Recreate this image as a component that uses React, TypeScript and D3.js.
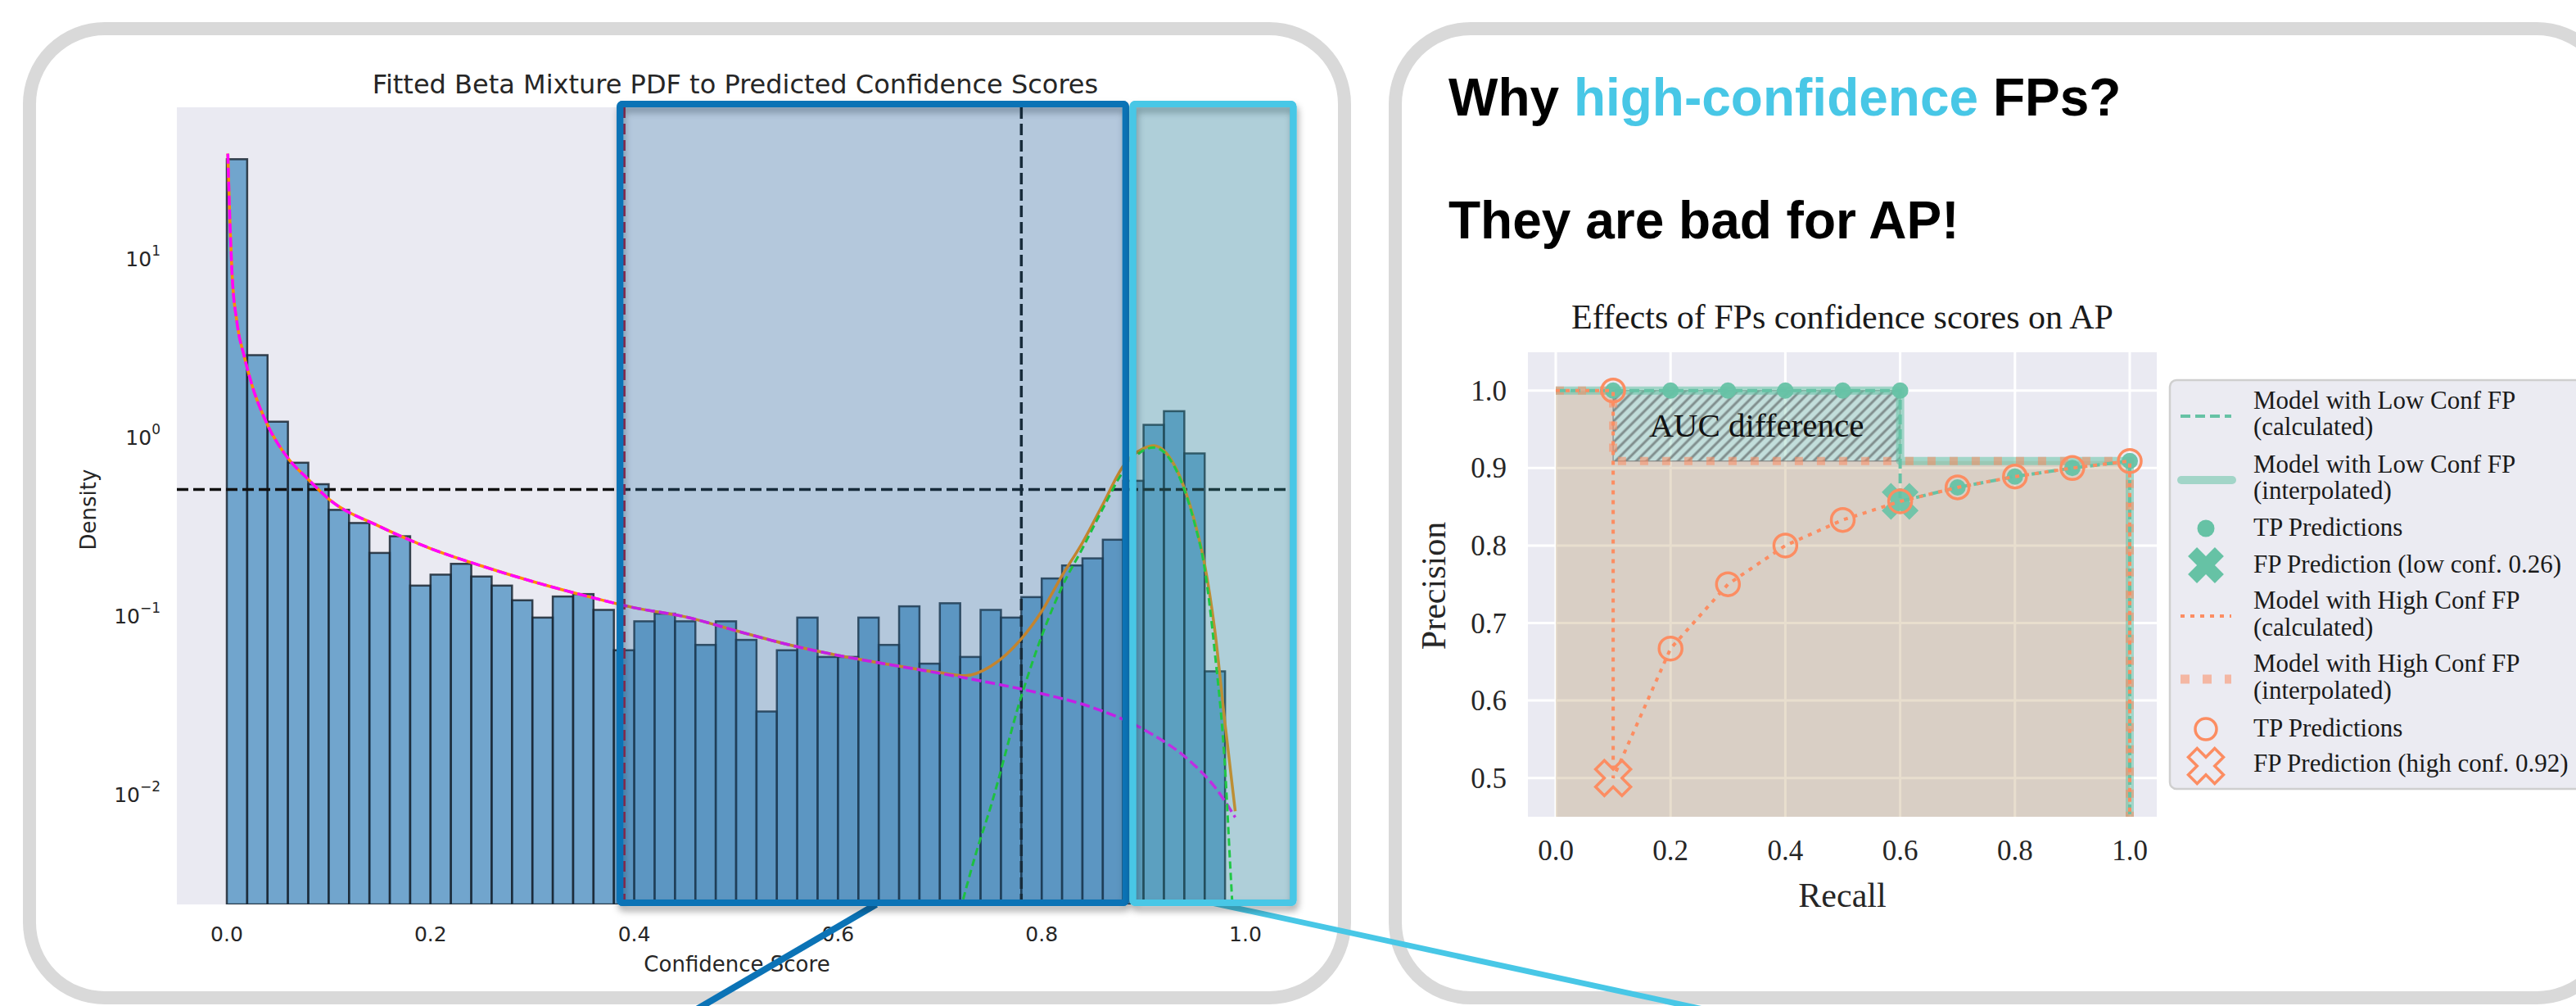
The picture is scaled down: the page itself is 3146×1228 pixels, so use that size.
import React from 'react'
import * as d3 from 'd3'

const W = 3146
const H = 1228

// ---------- left chart: histogram of confidence scores ----------
const binStarts = [0, 0.02, 0.04, 0.06, 0.08, 0.1, 0.12, 0.14, 0.16, 0.18, 0.2, 0.22, 0.24, 0.26, 0.28, 0.3, 0.32, 0.34, 0.36, 0.38,
  0.4, 0.42, 0.44, 0.46, 0.48, 0.5, 0.52, 0.54, 0.56, 0.58, 0.6, 0.62, 0.64, 0.66, 0.68, 0.7, 0.72, 0.74, 0.76, 0.78,
  0.8, 0.82, 0.84, 0.86, 0.88, 0.9, 0.92, 0.94, 0.96]
const binWidth = 0.02
const binDensity = [35.4, 2.83, 1.2, 0.707, 0.536, 0.385, 0.325, 0.221, 0.274, 0.145, 0.167, 0.192, 0.163, 0.145, 0.12, 0.096, 0.126, 0.13, 0.106, 0.063,
  0.0915, 0.101, 0.0915, 0.0675, 0.0915, 0.072, 0.0286, 0.063, 0.096, 0.0578, 0.0578, 0.096, 0.0675, 0.111, 0.053, 0.1155, 0.0578, 0.106, 0.096, 0.125,
  0.159, 0.188, 0.206, 0.262, 0.56, 1.152, 1.374, 0.797, 0.048]

// fitted components
const lowCompX = [0.001, 0.003, 0.005, 0.01, 0.017, 0.025, 0.04, 0.06, 0.08, 0.1, 0.15, 0.2, 0.25, 0.3, 0.35, 0.4, 0.45, 0.5, 0.55, 0.6, 0.65, 0.7, 0.75, 0.8, 0.85, 0.9, 0.95, 0.97, 0.99]
const lowCompY = [38, 16, 8.4, 4.3, 2.8, 1.9, 1.15, 0.75, 0.57, 0.443, 0.311, 0.234, 0.187, 0.153, 0.128, 0.109, 0.097, 0.081, 0.068, 0.059, 0.0524, 0.0468, 0.0414, 0.036, 0.0301, 0.0227, 0.0143, 0.0108, 0.0073]
const highCompX = [0.72, 0.735, 0.75, 0.78, 0.8, 0.82, 0.84, 0.86, 0.88, 0.9, 0.91, 0.92, 0.94, 0.95, 0.96, 0.97, 0.98, 0.985, 0.99]
const highCompY = [0.0022, 0.0045, 0.0084, 0.0348, 0.0756, 0.143, 0.234, 0.391, 0.631, 0.83, 0.86, 0.81, 0.5, 0.325, 0.18, 0.061, 0.0138, 0.004, 0.0012]
const mixX = [0.001, 0.003, 0.005, 0.01, 0.017, 0.025, 0.04, 0.06, 0.08, 0.1, 0.15, 0.2, 0.25, 0.3, 0.35, 0.4, 0.45, 0.5, 0.55, 0.6, 0.65, 0.7, 0.725, 0.75, 0.78, 0.8, 0.82, 0.84, 0.86, 0.88, 0.9, 0.91, 0.92, 0.94, 0.95, 0.96, 0.97, 0.98, 0.99]
const mixY = [38, 16, 8.4, 4.3, 2.8, 1.9, 1.15, 0.75, 0.57, 0.443, 0.311, 0.234, 0.187, 0.153, 0.128, 0.109, 0.097, 0.081, 0.068, 0.059, 0.0525, 0.0472, 0.0454, 0.0513, 0.073, 0.104, 0.165, 0.252, 0.413, 0.677, 0.85, 0.881, 0.826, 0.511, 0.334, 0.19, 0.081, 0.0244, 0.0079]

const densityThreshold = 0.5
const lowerCut = 0.39
const upperCut = 0.78
const histXTicks = [0, 0.2, 0.4, 0.6, 0.8, 1.0]
const histYExps = [-2, -1, 0, 1]
// highlighted score ranges
const midRange = [0.386, 0.8825]
const highRange = [0.8895, 1.047]

// ---------- right chart: precision / recall ----------
const lowCalcRecall = [0, 0.1, 0.2, 0.3, 0.4, 0.5, 0.6, 0.6, 0.7, 0.8, 0.9, 1.0, 1.0]
const lowCalcPrec = [1, 1, 1, 1, 1, 1, 1, 0.857, 0.875, 0.889, 0.9, 0.909, 0]
const lowInterpRecall = [0, 0.6, 0.6, 1.0, 1.0]
const lowInterpPrec = [1, 1, 0.909, 0.909, 0]
const highCalcRecall = [0, 0.1, 0.1, 0.2, 0.3, 0.4, 0.5, 0.6, 0.7, 0.8, 0.9, 1.0, 1.0]
const highCalcPrec = [1, 1, 0.5, 0.667, 0.75, 0.8, 0.833, 0.857, 0.875, 0.889, 0.9, 0.909, 0]
const highInterpRecall = [0, 0.1, 0.1, 1.0, 1.0]
const highInterpPrec = [1, 1, 0.909, 0.909, 0]
const tpLowRecall = [0.1, 0.2, 0.3, 0.4, 0.5, 0.6, 0.7, 0.8, 0.9, 1.0]
const tpLowPrec = [1, 1, 1, 1, 1, 1, 0.875, 0.889, 0.9, 0.909]
const fpLow = [0.6, 0.857]
const tpHighRecall = [0.1, 0.2, 0.3, 0.4, 0.5, 0.6, 0.7, 0.8, 0.9, 1.0]
const tpHighPrec = [1, 0.667, 0.75, 0.8, 0.833, 0.857, 0.875, 0.889, 0.9, 0.909]
const fpHigh = [0.1, 0.5]
const aucRecall = [0.1, 0.6]
const apXTicks = [0, 0.2, 0.4, 0.6, 0.8, 1.0]
const apYTicks = [0.5, 0.6, 0.7, 0.8, 0.9, 1.0]
const legendLabels = [
  ['Model with Low Conf FP', '(calculated)'],
  ['Model with Low Conf FP', '(interpolated)'],
  ['TP Predictions'],
  ['FP Prediction (low conf. 0.26)'],
  ['Model with High Conf FP', '(calculated)'],
  ['Model with High Conf FP', '(interpolated)'],
  ['TP Predictions'],
  ['FP Prediction (high conf. 0.92)'],
]

const GREEN = '#66c2a5'
const ORANGE = '#fc8d62'
const DARKBLUE = '#0b73b6'
const CYAN = '#48c7e6'
const sans = "'DejaVu Sans', sans-serif"
const serif = "'Liberation Serif', 'Times New Roman', serif"
const head = "'Liberation Sans', Arial, sans-serif"

const zip = (a: number[], b: number[]) => a.map((v, i) => [v, b[i]] as [number, number])

function Panels() {
  return (
    <g fill="#fff" stroke="#d9d9d9" strokeWidth={16}>
      <rect x={36} y={35} width={1606} height={1183} rx={92} />
      <rect x={1704} y={35} width={1486} height={1183} rx={92} />
    </g>
  )
}

function HistChart() {
  const x = d3.scaleLinear().domain([0, 1]).range([277, 1521])
  const y = d3.scaleLog().domain([1, 10]).range([532, 314])
  const L = 216, R = 1580, T = 131, B = 1104
  const line = d3.line<[number, number]>().x(d => x(d[0])).y(d => y(d[1])).curve(d3.curveMonotoneX)

  return (
    <g fontFamily={sans}>
      <defs>
        <clipPath id="histClip"><rect x={L} y={T} width={R - L} height={B - T} /></clipPath>
      </defs>
      <rect x={L} y={T} width={R - L} height={B - T} fill="#eaeaf2" />
      <g clipPath="url(#histClip)">
        {binStarts.map((s, i) => (
          <rect key={i} x={x(s)} y={y(binDensity[i])} width={x(s + binWidth) - x(s)} height={B - y(binDensity[i])}
            fill="rgba(31,119,180,0.6)" stroke="#1b2733" strokeOpacity={0.85} strokeWidth={2.5} />
        ))}
        <line x1={L} x2={R} y1={y(densityThreshold)} y2={y(densityThreshold)} stroke="#111" strokeWidth={3.5} strokeDasharray="14 6" />
        <line x1={x(upperCut)} x2={x(upperCut)} y1={T} y2={B} stroke="#111" strokeWidth={3.5} strokeDasharray="14 6" />
        <line x1={x(lowerCut)} x2={x(lowerCut)} y1={T} y2={B} stroke="#c8102e" strokeWidth={3.5} strokeDasharray="13 7" />
        <path d={line(zip(mixX, mixY)) || ''} fill="none" stroke="#ff8c00" strokeWidth={3.5} />
        <path d={line(zip(lowCompX, lowCompY)) || ''} fill="none" stroke="#ff00ff" strokeWidth={3.5} strokeDasharray="12 5" />
        <path d={line(zip(highCompX, highCompY)) || ''} fill="none" stroke="#19e019" strokeWidth={3} strokeDasharray="9 5" />
      </g>
      <text x={(L + R) / 2} y={114} textAnchor="middle" fontSize={32} fill="#262626">Fitted Beta Mixture PDF to Predicted Confidence Scores</text>
      {histXTicks.map(t => (
        <text key={t} x={x(t)} y={1149} textAnchor="middle" fontSize={25} fill="#262626">{t.toFixed(1)}</text>
      ))}
      {histYExps.map(e => (
        <text key={e} x={196} y={y(Math.pow(10, e)) + 11} textAnchor="end" fontSize={25} fill="#262626">
          10<tspan dy={-13} fontSize={17}>{e < 0 ? '\u2212' + (-e) : String(e)}</tspan>
        </text>
      ))}
      <text x={900} y={1186} textAnchor="middle" fontSize={26} fill="#262626">Confidence Score</text>
      <text transform="translate(117,622) rotate(-90)" textAnchor="middle" fontSize={26} fill="#262626">Density</text>
    </g>
  )
}

function RangeBoxes() {
  const x = d3.scaleLinear().domain([0, 1]).range([277, 1521])
  const T = 127, B = 1102
  const boxes = [
    { r: midRange, stroke: DARKBLUE, fill: 'rgba(40,110,165,0.28)' },
    { r: highRange, stroke: CYAN, fill: 'rgba(50,150,165,0.32)' },
  ]
  return (
    <g>
      <defs>
        <filter id="boxShadow" x="-10%" y="-10%" width="120%" height="120%">
          <feDropShadow dx={2} dy={6} stdDeviation={4} floodColor="#000" floodOpacity={0.35} />
        </filter>
      </defs>
      {boxes.map((b, i) => (
        <g key={i}>
          <rect x={x(b.r[0])} y={T} width={x(b.r[1]) - x(b.r[0])} height={B - T} fill="none" stroke={b.stroke} strokeWidth={8} rx={3} filter="url(#boxShadow)" />
          <rect x={x(b.r[0])} y={T} width={x(b.r[1]) - x(b.r[0])} height={B - T} fill={b.fill} stroke={b.stroke} strokeWidth={8} rx={3} />
        </g>
      ))}
    </g>
  )
}

function Connectors() {
  return (
    <g fill="none" strokeLinecap="butt">
      <line x1={1070} y1={1104} x2={820} y2={1250} stroke={DARKBLUE} strokeWidth={8} />
      <line x1={1480} y1={1102} x2={2200} y2={1258} stroke={CYAN} strokeWidth={7} />
    </g>
  )
}

function xMarker(size: number) {
  return d3.symbol(d3.symbolCross, size)() || ''
}

function ApChart() {
  const x = d3.scaleLinear().domain([0, 1]).range([1900, 2601])
  const y = d3.scaleLinear().domain([0.5, 1]).range([949.7, 476.7])
  const L = 1866, R = 2634, T = 430, B = 997
  const line = d3.line<[number, number]>().x(d => x(d[0])).y(d => y(d[1]))
  const highArea = d3.area<[number, number]>().x(d => x(d[0])).y0(B + 20).y1(d => y(d[1]))
  const aucArea = d3.area<number>().x(d => x(d)).y0(y(0.909)).y1(y(1))
  const lgX = 2694
  const textX = 2752

  return (
    <g fontFamily={serif}>
      <defs>
        <clipPath id="apClip"><rect x={L} y={T} width={R - L} height={B - T} /></clipPath>
        <pattern id="hatch" patternUnits="userSpaceOnUse" width={9} height={9} patternTransform="rotate(45)">
          <line x1={2} y1={0} x2={2} y2={9} stroke="rgba(105,115,115,0.75)" strokeWidth={3} />
        </pattern>
      </defs>
      <text x={64 + 1705} y={141} fontFamily={head} fontWeight={700} fontSize={64} fill="#000">
        Why <tspan fill={CYAN}>high-confidence</tspan> FPs?
      </text>
      <text x={1769} y={291} fontFamily={head} fontWeight={700} fontSize={64} fill="#000">They are bad for AP!</text>

      <text x={(L + R) / 2} y={401} textAnchor="middle" fontSize={42} fill="#1a1a1a">Effects of FPs confidence scores on AP</text>
      <rect x={L} y={T} width={R - L} height={B - T} fill="#eaeaf2" />
      <g stroke="#fff" strokeWidth={3}>
        {apXTicks.map(t => <line key={'gx' + t} x1={x(t)} x2={x(t)} y1={T} y2={B} />)}
        {apYTicks.map(t => <line key={'gy' + t} x1={L} x2={R} y1={y(t)} y2={y(t)} />)}
      </g>
      <g clipPath="url(#apClip)">
        <path d={highArea(zip(highInterpRecall, highInterpPrec).slice(0, 4)) || ''} fill="rgba(175,143,85,0.29)" />
        <path d={aucArea(aucRecall) || ''} fill="rgba(102,194,165,0.3)" />
        <path d={aucArea(aucRecall) || ''} fill="url(#hatch)" stroke="rgba(110,110,110,0.6)" strokeWidth={1.5} />
        <path d={line(zip(lowInterpRecall, lowInterpPrec)) || ''} fill="none" stroke={GREEN} strokeOpacity={0.55} strokeWidth={10} strokeLinejoin="round" />
        <path d={line(zip(highInterpRecall, highInterpPrec)) || ''} fill="none" stroke={ORANGE} strokeOpacity={0.55} strokeWidth={10} strokeDasharray="10 17" />
        <path d={line(zip(lowCalcRecall, lowCalcPrec)) || ''} fill="none" stroke={GREEN} strokeWidth={4} strokeDasharray="12 6" />
        <path d={xMarker(1264)} transform={`translate(${x(fpLow[0])},${y(fpLow[1])}) rotate(45)`} fill={GREEN} fillOpacity={0.9} />
        {tpLowRecall.map((r, i) => <circle key={'tl' + i} cx={x(r)} cy={y(tpLowPrec[i])} r={10} fill={GREEN} fillOpacity={0.95} />)}
        <path d={line(zip(highCalcRecall, highCalcPrec)) || ''} fill="none" stroke={ORANGE} strokeWidth={4} strokeDasharray="5 7" />
        {tpHighRecall.map((r, i) => <circle key={'th' + i} cx={x(r)} cy={y(tpHighPrec[i])} r={14} fill="none" stroke={ORANGE} strokeWidth={3.5} />)}
        <path d={xMarker(1155)} transform={`translate(${x(fpHigh[0])},${y(fpHigh[1])}) rotate(45)`} fill="none" stroke={ORANGE} strokeWidth={3.5} />
      </g>
      <text x={x(0.35)} y={y(0.94)} textAnchor="middle" fontSize={41} fill="#111">AUC difference</text>

      {apXTicks.map(t => <text key={'xt' + t} x={x(t)} y={1050} textAnchor="middle" fontSize={35} fill="#262626">{t.toFixed(1)}</text>)}
      {apYTicks.map(t => <text key={'yt' + t} x={1840} y={y(t) + 12} textAnchor="end" fontSize={35} fill="#262626">{t.toFixed(1)}</text>)}
      <text x={(L + R) / 2} y={1107} textAnchor="middle" fontSize={42} fill="#262626">Recall</text>
      <text transform="translate(1765,715) rotate(-90)" textAnchor="middle" fontSize={42} fill="#262626">Precision</text>

      {/* legend */}
      <rect x={2650} y={464} width={560} height={499} rx={8} fill="#ebebf2" stroke="#cfcfcf" strokeWidth={2.5} />
      <line x1={2663} x2={2725} y1={508} y2={508} stroke={GREEN} strokeWidth={4} strokeDasharray="12 6" />
      <line x1={2664} x2={2726} y1={586} y2={586} stroke={GREEN} strokeOpacity={0.55} strokeWidth={10} strokeLinecap="round" />
      <circle cx={lgX} cy={645} r={10.5} fill={GREEN} />
      <path d={xMarker(1200)} transform={`translate(${lgX},690) rotate(45)`} fill={GREEN} />
      <line x1={2663} x2={2725} y1={752} y2={752} stroke={ORANGE} strokeWidth={4} strokeDasharray="5 7" />
      <line x1={2663} x2={2725} y1={829} y2={829} stroke={ORANGE} strokeOpacity={0.55} strokeWidth={11} strokeDasharray="11 16" />
      <circle cx={lgX} cy={890} r={13} fill="none" stroke={ORANGE} strokeWidth={3.5} />
      <path d={xMarker(1155)} transform={`translate(${lgX},935) rotate(45)`} fill="none" stroke={ORANGE} strokeWidth={3.5} />
      {[[499, 531], [577, 609], [654], [699], [743, 776], [820, 853], [899], [942]].map((ys, i) =>
        ys.map((yy, j) => (
          <text key={i + '-' + j} x={textX} y={yy} fontSize={31} fill="#1a1a1a">{legendLabels[i][j]}</text>
        ))
      )}
    </g>
  )
}

export default function App() {
  return (
    <svg width={W} height={H} style={{ position: 'absolute', left: 0, top: 0, background: '#fff' }}>
      <rect width={W} height={H} fill="#fff" />
      <Panels />
      <ApChart />
      <HistChart />
      <Connectors />
      <RangeBoxes />
    </svg>
  )
}
